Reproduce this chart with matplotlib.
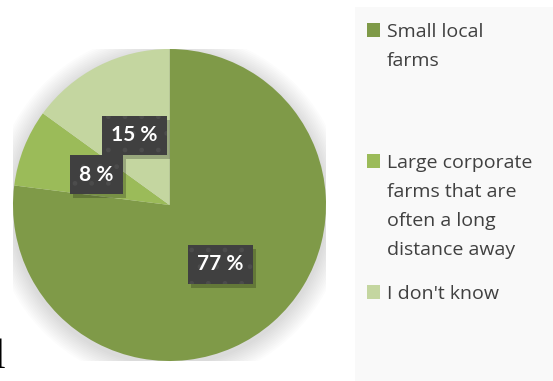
import matplotlib
matplotlib.use("Agg")
import matplotlib.pyplot as plt
from matplotlib.patches import Rectangle, Ellipse
import matplotlib.transforms as mtransforms

# data
categories = ["Small local\nfarms",
              "Large corporate\nfarms that are\noften a long\ndistance away",
              "I don't know"]
values = [77, 8, 15]
value_labels = ["77 %", "8 %", "15 %"]
colors = ["#7F9A48", "#9BBB59", "#C4D6A0"]

W, H = 553, 381
fig = plt.figure(figsize=(W / 100, H / 100), dpi=100)
fig.patch.set_facecolor("white")

# legend panel background
fig.patches.append(Rectangle((355 / W, 0), (W - 355) / W, (H - 7) / H,
                             transform=fig.transFigure, facecolor="#F9F9F9",
                             edgecolor="none", zorder=0))

# pie occupies pixel box x 13..326, y 49..361
ax = fig.add_axes([13 / W, (H - 361) / H, 313 / W, 312 / H])
ax.set_facecolor("none")

# soft shadow
for i in range(12):
    s = 1.0 + 0.011 * (i + 1)
    ax.add_patch(Ellipse((0.0, -0.02), 2 * s, 2 * s, facecolor="black",
                         edgecolor="none", alpha=0.013, zorder=0))

ax.pie(values, colors=colors, startangle=90, counterclock=False,
       wedgeprops=dict(linewidth=0, zorder=1))
ax.set_aspect("auto")
ax.set_xlim(-1, 1)
ax.set_ylim(-1, 1)
ax.axis("off")

# data label positions (axes data coords)
label_pos = [(0.324, -0.381), (-0.468, 0.195), (-0.224, 0.446)]
shadow_off = mtransforms.offset_copy(ax.transData, fig=fig, x=3, y=-4, units="dots")
for lab, (x, y) in zip(value_labels, label_pos):
    ax.text(x, y, lab, transform=shadow_off, ha="center", va="center",
            fontsize=15, fontweight="bold", family="Lato", color="none", zorder=4,
            bbox=dict(boxstyle="square,pad=0.45", facecolor="black",
                      edgecolor="none", alpha=0.22))
    ax.text(x, y, lab, ha="center", va="center", fontsize=15, fontweight="bold",
            family="Lato", color="white", zorder=5,
            bbox=dict(boxstyle="square,pad=0.45", facecolor="#404040",
                      edgecolor="#4C4C4C", linewidth=0, hatch="."))

# legend (one text per line, 29 px line pitch)
leg_base = [37, 168, 299]
for cat, col, py in zip(categories, colors, leg_base):
    fig.patches.append(Rectangle((367 / W, 1 - py / H), 13 / W, 14 / H,
                                 transform=fig.transFigure, facecolor=col,
                                 edgecolor="none", zorder=2))
    for k, line in enumerate(cat.split("\n")):
        fig.text(387 / W, 1 - (py + 29 * k) / H, line, ha="left", va="baseline",
                 fontsize=14, family="Open Sans", color="#404040")

# clipped fragment of surrounding page text
fig.text(5 / W, 1 - 368 / H, "l", ha="right", va="baseline", fontsize=30,
         family="Liberation Serif", color="black")

fig.savefig("out.png", dpi=100)
